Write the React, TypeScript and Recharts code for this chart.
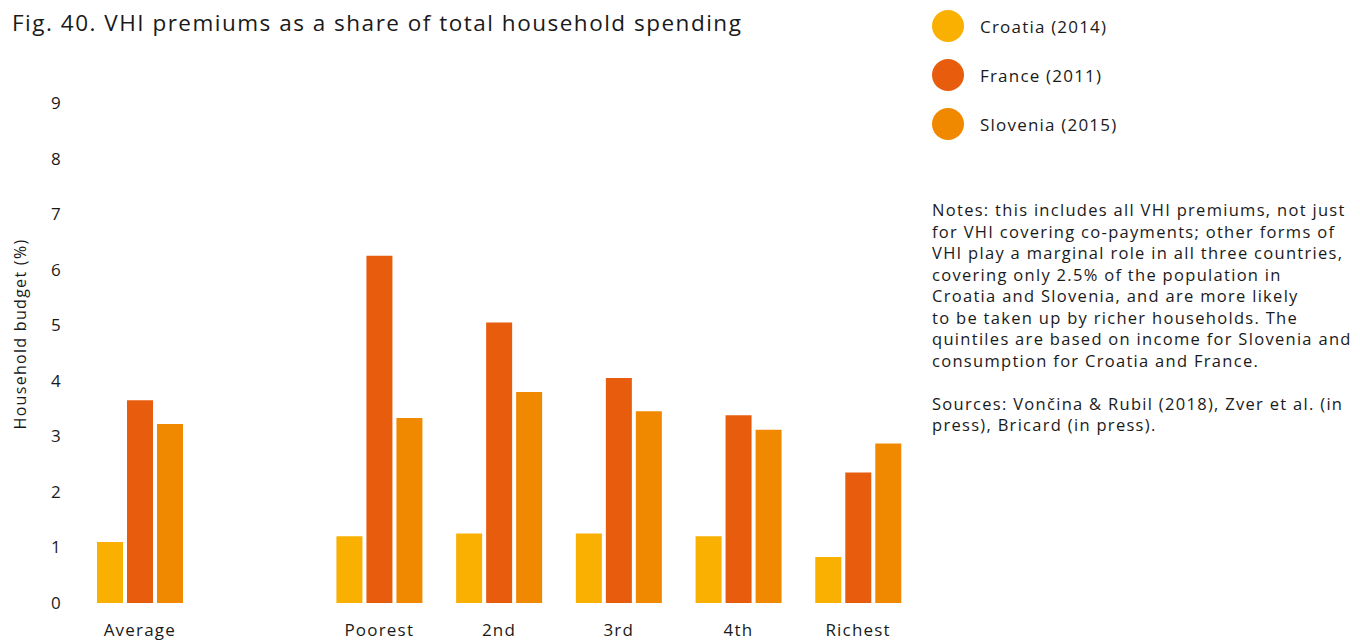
import { BarChart, Bar, XAxis, YAxis, Label } from 'recharts'

const categories = ['Average', '', 'Poorest', '2nd', '3rd', '4th', 'Richest']
const croatia = [1.1, null, 1.2, 1.25, 1.25, 1.2, 0.83]
const france = [3.65, null, 6.25, 5.05, 4.05, 3.38, 2.35]
const slovenia = [3.22, null, 3.33, 3.8, 3.45, 3.12, 2.87]
const yTicks = [0, 1, 2, 3, 4, 5, 6, 7, 8, 9]

const series = [
  { key: 'croatia', name: 'Croatia (2014)', color: '#F9B000' },
  { key: 'france', name: 'France (2011)', color: '#E85C0E' },
  { key: 'slovenia', name: 'Slovenia (2015)', color: '#F08900' },
]

const noteLines = [
  'Notes: this includes all VHI premiums, not just',
  'for VHI covering co-payments; other forms of',
  'VHI play a marginal role in all three countries,',
  'covering only 2.5% of the population in',
  'Croatia and Slovenia, and are more likely',
  'to be taken up by richer households. The',
  'quintiles are based on income for Slovenia and',
  'consumption for Croatia and France.',
]
const sourceLines = ['Sources: Vončina & Rubil (2018), Zver et al. (in', 'press), Bricard (in press).']

const data = categories.map((name, i) => ({
  name,
  croatia: croatia[i],
  france: france[i],
  slovenia: slovenia[i],
}))

const FONT = '"Open Sans", "Noto Sans", sans-serif'
const TEXT = '#1a1a1a'

const AxisTitle = () => (
  <text
    x={20}
    y={334}
    transform="rotate(-90 20 334)"
    textAnchor="middle"
    dominantBaseline="central"
    fontSize={16}
    letterSpacing={1.3}
    fill={TEXT}
    fontFamily={FONT}
  >
    Household budget (%)
  </text>
)

const tickStyle = { fontSize: 17, fill: TEXT, fontFamily: FONT, letterSpacing: 1.2 }

const App = () => (
  <div style={{ position: 'absolute', left: 0, top: 0, width: 1360, height: 642, background: '#fff', fontFamily: FONT, color: TEXT, overflow: 'hidden' }}>
    <div style={{ position: 'absolute', left: 12, top: 7, fontSize: 22.5, letterSpacing: 1.5, whiteSpace: 'nowrap' }}>
      Fig. 40. VHI premiums as a share of total household spending
    </div>

    <div style={{ position: 'absolute', left: 0, top: 0 }}>
      <BarChart
        width={930}
        height={642}
        data={data}
        margin={{ top: 103, right: 12, left: 0, bottom: 0 }}
        barSize={26}
        barGap={4}
      >
        <XAxis
          dataKey="name"
          axisLine={false}
          tickLine={false}
          tickSize={0}
          tickMargin={21}
          height={39}
          interval={0}
          tick={tickStyle}
        />
        <YAxis
          domain={[0, 9]}
          ticks={yTicks}
          width={80}
          axisLine={false}
          tickLine={false}
          tickSize={0}
          tickMargin={18}
          tick={tickStyle}
        >
          <Label content={<AxisTitle />} />
        </YAxis>
        {series.map((s) => (
          <Bar key={s.key} dataKey={s.key} name={s.name} fill={s.color} isAnimationActive={false} />
        ))}
      </BarChart>
    </div>

    <div style={{ position: 'absolute', left: 932, top: 10 }}>
      {series.map((s) => (
        <div key={s.key} style={{ display: 'flex', alignItems: 'center', height: 32, marginBottom: 17 }}>
          <div style={{ width: 32, height: 32, borderRadius: 16, background: s.color }} />
          <span style={{ marginLeft: 16, fontSize: 17, letterSpacing: 1.2 }}>{s.name}</span>
        </div>
      ))}
    </div>

    <div style={{ position: 'absolute', left: 932, top: 199, fontSize: 16.5, letterSpacing: 1.3, lineHeight: '21.5px', whiteSpace: 'nowrap' }}>
      {noteLines.map((l, i) => <div key={i}>{l}</div>)}
      <div style={{ height: 21.5 }} />
      {sourceLines.map((l, i) => <div key={i}>{l}</div>)}
    </div>
  </div>
)

export default App
